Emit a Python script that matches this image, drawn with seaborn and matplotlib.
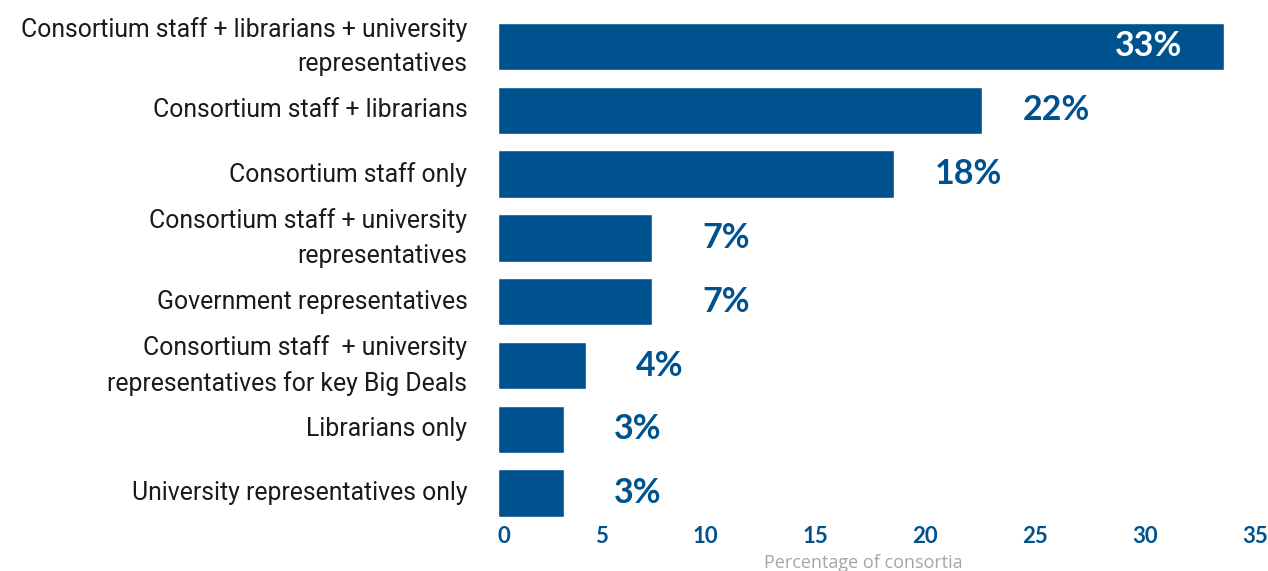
import matplotlib
matplotlib.use("Agg")
import matplotlib.pyplot as plt
import seaborn as sns
import pandas as pd

# Who negotiates on behalf of the consortium
categories = [
    "Consortium staff + librarians + university\nrepresentatives",
    "Consortium staff + librarians",
    "Consortium staff only",
    "Consortium staff + university\nrepresentatives",
    "Government representatives",
    "Consortium staff  + university\nrepresentatives for key Big Deals",
    "Librarians only",
    "University representatives only",
]
values = [33, 22, 18, 7, 7, 4, 3, 3]
value_labels = ["33%", "22%", "18%", "7%", "7%", "4%", "3%", "3%"]
xticks = [0, 5, 10, 15, 20, 25, 30, 35]
x_title = "Percentage of consortia"

BLUE = "#00528f"
GREY = "#a6a6a6"

sns.set_theme(style="white")
plt.rcParams["font.family"] = ["Roboto", "DejaVu Sans"]

df = pd.DataFrame({"group": categories, "pct": values})

fig = plt.figure(figsize=(12.68, 5.71), dpi=100)
ax = fig.add_axes([498 / 1268, 1 - 525 / 571, 1 - 498 / 1268, (525 - 14.6) / 571])

sns.barplot(data=df, x="pct", y="group", orient="h", color=BLUE,
            saturation=1, width=0.74, ax=ax)

ax.set_xlim(0, 35)
ax.set_ylim(len(categories) - 0.5, -0.5)
sns.despine(ax=ax, left=True, bottom=True)
ax.tick_params(axis="both", length=0)

# category labels, right aligned next to the bars
ax.set_yticks(range(len(categories)))
ax.set_yticklabels(categories, fontsize=17.8, color="#1a1a1a",
                   ha="right", va="center", linespacing=1.55)
ax.tick_params(axis="y", pad=22)
ax.set_ylabel("")

# bold numeric x ticks
ax.set_xticks(xticks)
ax.set_xticklabels([str(t) for t in xticks], fontsize=16, fontweight="bold",
                   color=BLUE, family=["Lato", "DejaVu Sans"], ha="right")
ax.get_xticklabels()[0].set_horizontalalignment("left")
ax.tick_params(axis="x", pad=1)
ax.set_xlabel(x_title, fontsize=13, color=GREY,
              family=["Open Sans", "DejaVu Sans"], labelpad=2)
ax.xaxis.set_label_coords((863 - 498) / (1268 - 498), -0.056)

# value labels: inside the longest bar, beyond the others
for i, (v, lab) in enumerate(zip(values, value_labels)):
    if i == 0:
        ax.annotate(lab, (v, i), xytext=(-75, 0), textcoords="offset pixels",
                    ha="center", va="center", color="white", fontsize=24.5,
                    fontweight="bold", family=["Lato", "DejaVu Sans"])
    else:
        ax.annotate(lab, (v, i), xytext=(74, 0), textcoords="offset pixels",
                    ha="center", va="center", color=BLUE, fontsize=24.5,
                    fontweight="bold", family=["Lato", "DejaVu Sans"])

fig.savefig("out.png", dpi=100)
